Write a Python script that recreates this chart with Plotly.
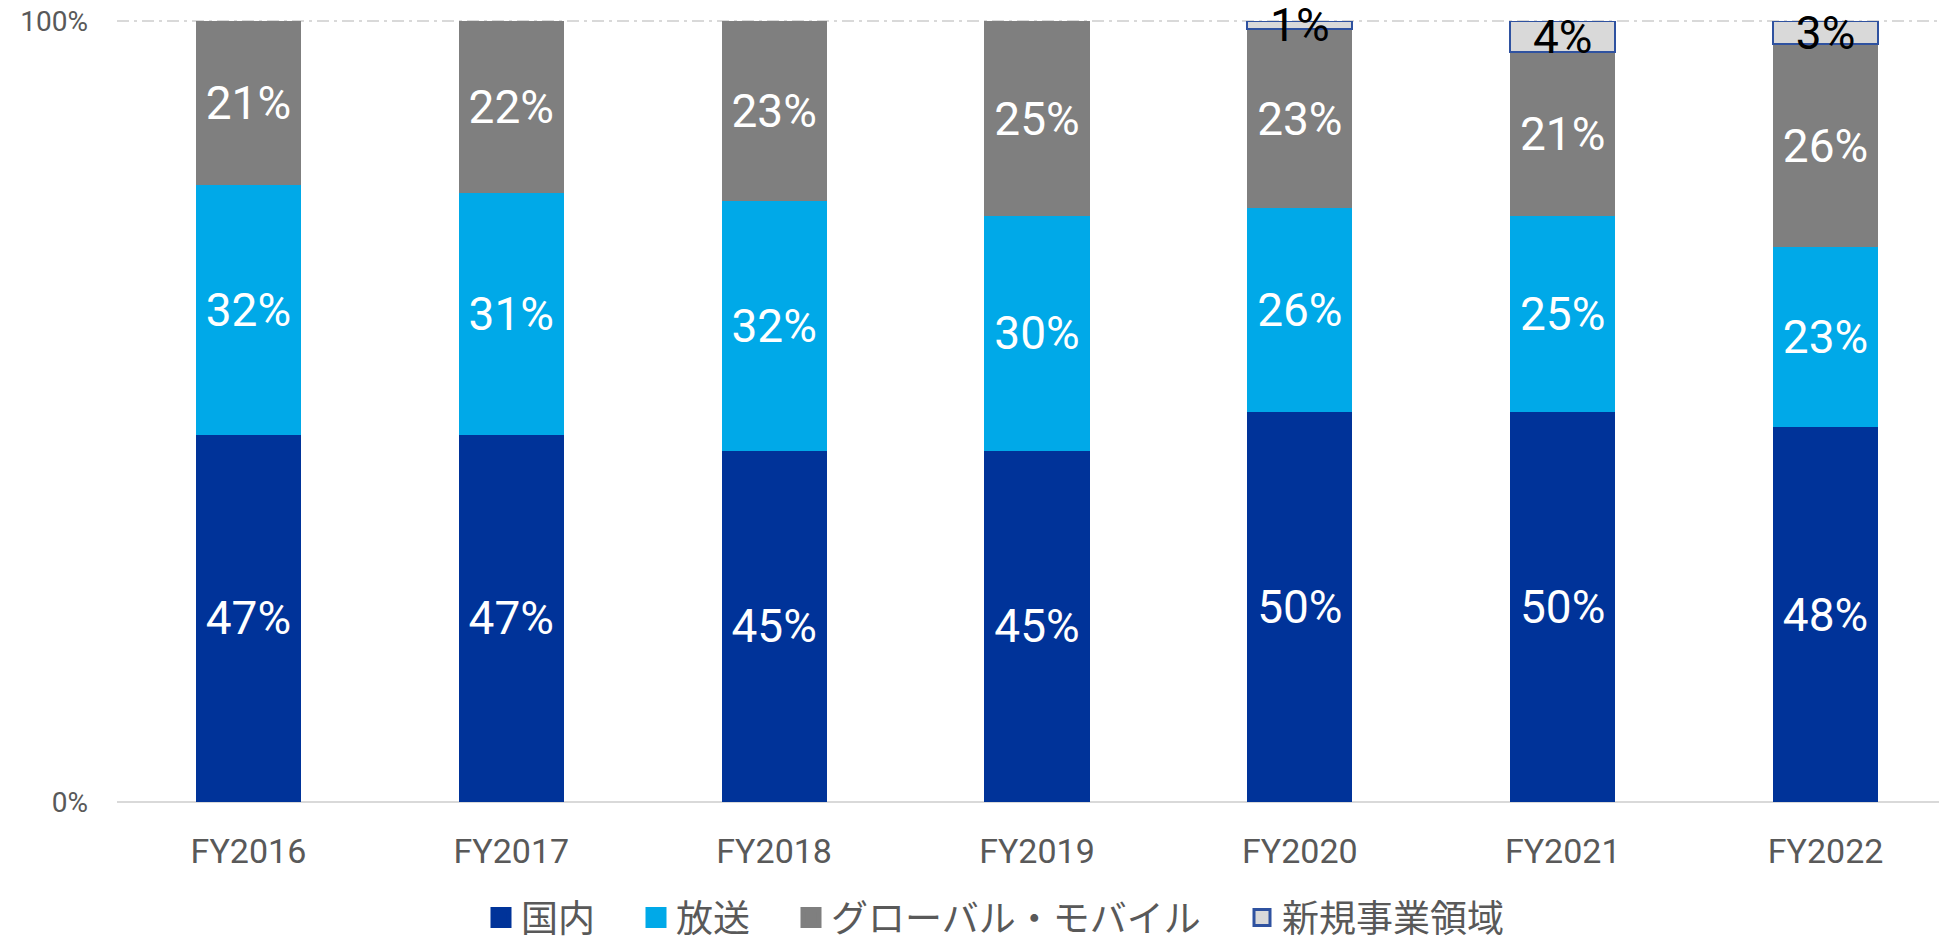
import plotly.graph_objects as go

# fiscal years and segment shares (%)
years = ["FY2016", "FY2017", "FY2018", "FY2019", "FY2020", "FY2021", "FY2022"]
domestic = [47, 47, 45, 45, 50, 50, 48]
broadcast = [32, 31, 32, 30, 26, 25, 23]
global_mobile = [21, 22, 23, 25, 23, 21, 26]
new_business = [None, None, None, None, 1, 4, 3]

names = ["国内", "放送", "グローバル・モバイル", "新規事業領域"]
colors = ["#003399", "#00A9E8", "#7F7F7F", "#D9D9D9"]
NB_EDGE = "#2F52A0"
GRID = "#D9D9D9"

# page is drawn with an 8px body margin, so the figure is shrunk to fit
W, H = 1939, 929
PLOT_L, PLOT_T, PLOT_W, PLOT_H = 117, 21, 1830, 781  # page pixels


def px_x(x):
    return (x - PLOT_L) / PLOT_W


def px_y(y):
    return (PLOT_T + PLOT_H - y) / PLOT_H


fig = go.Figure()

series = [domestic, broadcast, global_mobile]
for name, vals, col in zip(names[:3], series, colors[:3]):
    fig.add_trace(go.Bar(
        x=years, y=vals, name=name, marker=dict(color=col, line=dict(width=0)),
        text=[f"{v}%" for v in vals], textposition="inside", insidetextanchor="middle",
        textfont=dict(family="Roboto", size=46, color="white"),
        showlegend=False, cliponaxis=False, hoverinfo="skip",
    ))

# new business segment only exists from FY2020
nb_text = [f"{v}%" if v else "" for v in new_business]
fig.add_trace(go.Bar(
    x=years, y=new_business, name=names[3],
    marker=dict(color=colors[3], line=dict(color=NB_EDGE, width=2)),
    text=nb_text, textposition="inside", insidetextanchor="middle",
    textfont=dict(family="Roboto", size=46, color="black"),
    showlegend=False, cliponaxis=False, hoverinfo="skip",
))

# one legend per entry so the spacing can follow the original
legend_left = [481, 636, 791, 1242]
legend_ids = ["legend", "legend2", "legend3", "legend4"]
legend_layout = {}
for i, (name, col) in enumerate(zip(names, colors)):
    is_new = i == 3
    fig.add_trace(go.Scatter(
        x=[years[0]], y=[None], mode="markers", name=name, legend=legend_ids[i],
        marker=dict(symbol="square", size=16, color=col,
                    line=dict(color=NB_EDGE if is_new else col, width=3 if is_new else 5)),
        showlegend=True, hoverinfo="skip",
    ))
    legend_layout[legend_ids[i]] = dict(
        orientation="h", x=px_x(legend_left[i]), xanchor="left",
        y=px_y(918), yanchor="middle", bgcolor="rgba(0,0,0,0)",
        font=dict(family="Noto Sans CJK JP", size=37, color="#595959"),
        itemsizing="trace",
    )

fig.update_layout(
    barmode="stack",
    bargap=0.6,
    width=W, height=H,
    margin=dict(l=PLOT_L - 8, r=0, t=PLOT_T - 8, b=H + 8 - PLOT_T - PLOT_H, autoexpand=False),
    plot_bgcolor="white", paper_bgcolor="white",
    uniformtext=dict(minsize=46, mode="show"),
    # 100% gridline sits on the plot edge, plotly drops it there
    shapes=[dict(type="line", xref="paper", yref="paper", x0=0, x1=1, y0=1, y1=1,
                 line=dict(color=GRID, width=2, dash="12px,5px,3px,5px"), layer="below")],
    **legend_layout,
)

fig.update_xaxes(
    range=[-0.5, 6.462], showgrid=False, showline=False, zeroline=False,
    tickfont=dict(family="Roboto", size=34, color="#595959"),
    ticklabelstandoff=26,
)
fig.update_yaxes(
    range=[0, 100], tickvals=[0, 100], ticktext=["0%", "100%"],
    showgrid=False, zeroline=True, zerolinecolor=GRID, zerolinewidth=2,
    tickfont=dict(family="Roboto", size=28, color="#595959"),
    ticklabelstandoff=28, ticklabeloverflow="allow",
)

fig.write_html("out.html")
